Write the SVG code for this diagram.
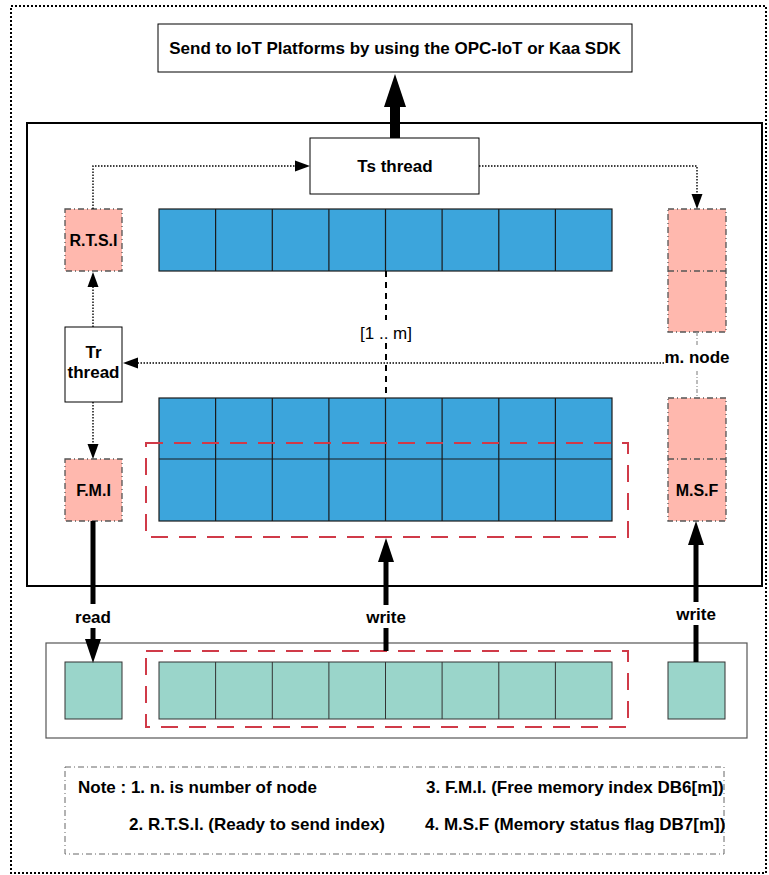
<svg xmlns="http://www.w3.org/2000/svg" width="769" height="875" viewBox="0 0 769 875">
<defs>
<style>
text{font-family:"Liberation Sans",Arial,sans-serif;fill:#000}
.b{font-weight:bold;font-size:17px}
.s{font-weight:bold;font-size:16px}
.r{font-size:17px}
.box{fill:#fff;stroke:#000;stroke-width:1}
.pink{fill:#ffb8ae;stroke:#555;stroke-width:1.3;stroke-dasharray:6 3 1 3}
.blue{fill:#3ca5dc;stroke:#1a1a1a;stroke-width:1.2}
.teal{fill:#9ad5ca;stroke:#333;stroke-width:1}
.reddash{fill:none;stroke:#d03a48;stroke-width:2;stroke-dasharray:17 11}
.dot{fill:none;stroke:#000;stroke-width:1.4;stroke-dasharray:1.5 1.5}
.thick{fill:none;stroke:#000;stroke-width:5}
.dash{fill:none;stroke:#000;stroke-width:2;stroke-dasharray:6 5}
.gray{fill:none;stroke:#999;stroke-width:1.3;stroke-dasharray:4 2 1 2}
</style>
<marker id="ad" markerUnits="userSpaceOnUse" markerWidth="15" markerHeight="11" refX="0" refY="5.5" orient="auto" overflow="visible"><path d="M0,0 L15,5.5 L0,11 z" fill="#000"/></marker>
<marker id="at" markerUnits="userSpaceOnUse" markerWidth="24" markerHeight="16" refX="0" refY="8" orient="auto" overflow="visible"><path d="M0,0 L24,8 L0,16 z" fill="#000"/></marker>
<marker id="ab" markerUnits="userSpaceOnUse" markerWidth="33" markerHeight="22" refX="0" refY="11" orient="auto" overflow="visible"><path d="M0,0 L33,11 L0,22 z" fill="#000"/></marker>
</defs>

<rect x="11" y="6" width="755" height="867" fill="#fff" stroke="#000" stroke-width="2" stroke-dasharray="2 2"/>

<g id="iot-platform">
<rect class="box" x="158" y="24" width="474" height="48"/>
<text class="b" x="395" y="54" text-anchor="middle">Send to IoT Platforms by using the OPC-IoT or Kaa SDK</text>
</g>

<g id="main-container">
<rect x="27" y="123" width="735" height="463" fill="none" stroke="#000" stroke-width="2"/>
</g>

<g id="ts-thread">
<rect class="box" x="310" y="138" width="169" height="56"/>
<text class="b" x="395" y="172" text-anchor="middle">Ts thread</text>
</g>

<g id="rtsi">
<rect class="pink" x="65" y="209" width="57" height="62"/>
<text class="s" x="93.5" y="246" text-anchor="middle">R.T.S.I</text>
</g>

<g id="tr-thread">
<rect class="box" x="65" y="327" width="57" height="75"/>
<text class="b" x="93.5" y="358" text-anchor="middle">Tr</text>
<text class="b" x="93.5" y="378" text-anchor="middle">thread</text>
</g>

<g id="fmi">
<rect class="pink" x="65" y="459" width="57" height="62"/>
<text class="s" x="93.5" y="496" text-anchor="middle">F.M.I</text>
</g>

<g id="node-upper">
<rect class="pink" x="668" y="209" width="58" height="123"/>
<line class="pink" x1="668" y1="271" x2="726" y2="271"/>
</g>

<g id="msf">
<rect class="pink" x="668" y="398" width="58" height="123"/>
<line class="pink" x1="668" y1="459" x2="726" y2="459"/>
<text class="s" x="697" y="496" text-anchor="middle">M.S.F</text>
</g>

<g id="array-top">
<rect class="blue" x="159" y="209" width="453" height="62"/>
<path d="M215.6,209V271M272.3,209V271M328.9,209V271M385.5,209V271M442.1,209V271M498.8,209V271M555.4,209V271" stroke="#1a1a1a" stroke-width="1.2"/>
</g>

<g id="array-lower">
<rect class="blue" x="159" y="398" width="453" height="123"/>
<path d="M159,459H612M215.6,398V521M272.3,398V521M328.9,398V521M385.5,398V521M442.1,398V521M498.8,398V521M555.4,398V521" stroke="#1a1a1a" stroke-width="1.2"/>
</g>

<g id="selection-upper">
<rect class="reddash" x="146" y="443" width="482" height="94"/>
</g>

<g id="memory-bottom">
<rect x="46" y="643" width="701" height="95" fill="#fff" stroke="#555" stroke-width="1.2"/>
</g>

<g id="teal-left">
<rect class="teal" x="65" y="662" width="57" height="57"/>
</g>

<g id="teal-array">
<rect class="teal" x="159" y="662" width="453" height="57"/>
<path d="M215.6,662V719M272.3,662V719M328.9,662V719M385.5,662V719M442.1,662V719M498.8,662V719M555.4,662V719" stroke="#333" stroke-width="1"/>
</g>

<g id="selection-bottom">
<rect class="reddash" x="146" y="651" width="482" height="76"/>
</g>

<g id="teal-right">
<rect class="teal" x="668" y="662" width="57" height="57"/>
</g>

<g id="note">
<rect x="65" y="767" width="659" height="87" fill="none" stroke="#666" stroke-width="1" stroke-dasharray="6 3 1 3"/>
<text class="b" x="78" y="793">Note : 1. n. is number of node</text>
<text class="b" x="426" y="793">3. F.M.I. (Free memory index DB6[m])</text>
<text class="b" x="129" y="830">2. R.T.S.I. (Ready to send index)</text>
<text class="b" x="425" y="830">4. M.S.F (Memory status flag DB7[m])</text>
</g>

<g id="connectors">
<path class="dot" d="M93,209V166H295" marker-end="url(#ad)"/>
<path class="dot" d="M479,166H697V194" marker-end="url(#ad)"/>
<path class="dot" d="M93,327V287" marker-end="url(#ad)"/>
<path class="dot" d="M664,363H138" marker-end="url(#ad)"/>
<path class="dot" d="M93,402V444" marker-end="url(#ad)"/>
<path class="gray" d="M697,332V347M697,371V398"/>
<text class="b" x="697" y="363" text-anchor="middle">m. node</text>
<path class="dash" d="M386,271V320M386,343V398"/>
<text class="r" x="386" y="339" text-anchor="middle">[1 .. m]</text>
<path d="M395,138V107" stroke="#000" stroke-width="10" fill="none" marker-end="url(#ab)"/>
<path class="thick" d="M93,521V604"/>
<path class="thick" d="M93,628V639" marker-end="url(#at)"/>
<text class="b" x="93" y="623" text-anchor="middle">read</text>
<path class="thick" d="M386,651V628"/>
<path class="thick" d="M386,605V562" marker-end="url(#at)"/>
<text class="b" x="386" y="623" text-anchor="middle">write</text>
<path class="thick" d="M696,662V625"/>
<path class="thick" d="M696,602V545" marker-end="url(#at)"/>
<text class="b" x="696" y="620" text-anchor="middle">write</text>
</g>
</svg>
